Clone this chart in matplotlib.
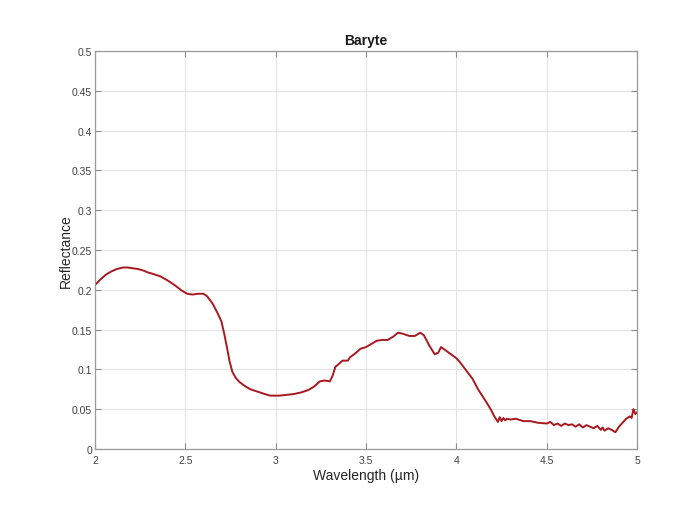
import matplotlib.pyplot as plt

plt.rcParams['font.family'] = ['Liberation Sans', 'DejaVu Sans']

# spectrum
wavelength = [2.00, 2.03, 2.06, 2.09, 2.12, 2.155, 2.18, 2.21, 2.24, 2.27, 2.29,
              2.32, 2.36, 2.40, 2.44, 2.48, 2.51, 2.54, 2.57, 2.60, 2.62, 2.65,
              2.68, 2.70, 2.715, 2.73, 2.745, 2.76, 2.78, 2.80, 2.83, 2.86, 2.90,
              2.94, 2.97, 3.00, 3.02, 3.06, 3.10, 3.14, 3.18, 3.21, 3.245, 3.27,
              3.30, 3.315, 3.33, 3.35, 3.37, 3.40, 3.41, 3.44, 3.47, 3.50, 3.53,
              3.56, 3.59, 3.62, 3.65, 3.677, 3.70, 3.74, 3.77, 3.80, 3.82, 3.85,
              3.88, 3.90, 3.915, 3.94, 3.97, 4.00, 4.02, 4.05, 4.09, 4.12, 4.16,
              4.19, 4.21, 4.23, 4.24, 4.25, 4.26, 4.27, 4.28, 4.30, 4.33, 4.37,
              4.41, 4.45, 4.50, 4.52, 4.54, 4.56, 4.58, 4.60, 4.62, 4.64, 4.66,
              4.68, 4.70, 4.72, 4.74, 4.76, 4.78, 4.80, 4.81, 4.82, 4.84, 4.86,
              4.88, 4.90, 4.92, 4.94, 4.96, 4.97, 4.98, 4.99, 5.00]
reflectance = [0.206, 0.213, 0.219, 0.223, 0.226, 0.228, 0.228, 0.227, 0.226, 0.224, 0.222,
               0.220, 0.217, 0.212, 0.206, 0.199, 0.195, 0.194, 0.195, 0.195, 0.192, 0.183,
               0.170, 0.160, 0.145, 0.128, 0.110, 0.097, 0.089, 0.084, 0.079, 0.075, 0.072,
               0.069, 0.067, 0.067, 0.067, 0.068, 0.069, 0.071, 0.074, 0.078, 0.085, 0.086,
               0.085, 0.092, 0.103, 0.107, 0.111, 0.111, 0.115, 0.120, 0.126, 0.128, 0.132,
               0.136, 0.137, 0.137, 0.141, 0.146, 0.145, 0.142, 0.142, 0.146, 0.143, 0.130,
               0.119, 0.121, 0.128, 0.124, 0.119, 0.114, 0.109, 0.100, 0.088, 0.075, 0.061,
               0.050, 0.041, 0.034, 0.040, 0.035, 0.039, 0.036, 0.038, 0.037, 0.038, 0.035,
               0.035, 0.033, 0.032, 0.034, 0.030, 0.032, 0.029, 0.032, 0.030, 0.031, 0.028,
               0.031, 0.027, 0.030, 0.028, 0.026, 0.029, 0.024, 0.027, 0.023, 0.026, 0.024,
               0.021, 0.028, 0.033, 0.038, 0.041, 0.039, 0.050, 0.044, 0.046]

fig = plt.figure(figsize=(6.83, 5.06), dpi=100)
ax = fig.add_axes([0.1391, 0.1107, 0.7936, 0.7866])

ax.plot(wavelength, reflectance, color='#a8191f', linewidth=1.4)

ax.set_xlim(2, 5)
ax.set_ylim(0, 0.5)
ax.set_xticks([2, 2.5, 3, 3.5, 4, 4.5, 5])
ax.set_xticklabels(['2', '2.5', '3', '3.5', '4', '4.5', '5'])
ax.set_yticks([0, 0.05, 0.1, 0.15, 0.2, 0.25, 0.3, 0.35, 0.4, 0.45, 0.5])
ax.set_yticklabels(['0', '0.05', '0.1', '0.15', '0.2', '0.25', '0.3', '0.35',
                    '0.4', '0.45', '0.5'])

ax.grid(True, color='#e3e3e3', linewidth=0.8)
ax.tick_params(direction='in', top=True, right=True, length=4, width=0.8,
               colors='#8a8a8a', labelcolor='#404040', labelsize=7.5, pad=4.5)
ax.tick_params(axis='y', pad=2)
for s in ax.spines.values():
    s.set_color('#9a9a9a')
    s.set_linewidth(0.9)

ax.set_xlabel('Wavelength (µm)', fontsize=10, color='#262626', labelpad=2)
ax.set_ylabel('Reflectance', fontsize=10, color='#262626', labelpad=-1)
ax.set_title('Baryte', fontsize=10, fontweight='bold', color='#1a1a1a', pad=5)

fig.savefig('out.png', dpi=100, facecolor='white')
